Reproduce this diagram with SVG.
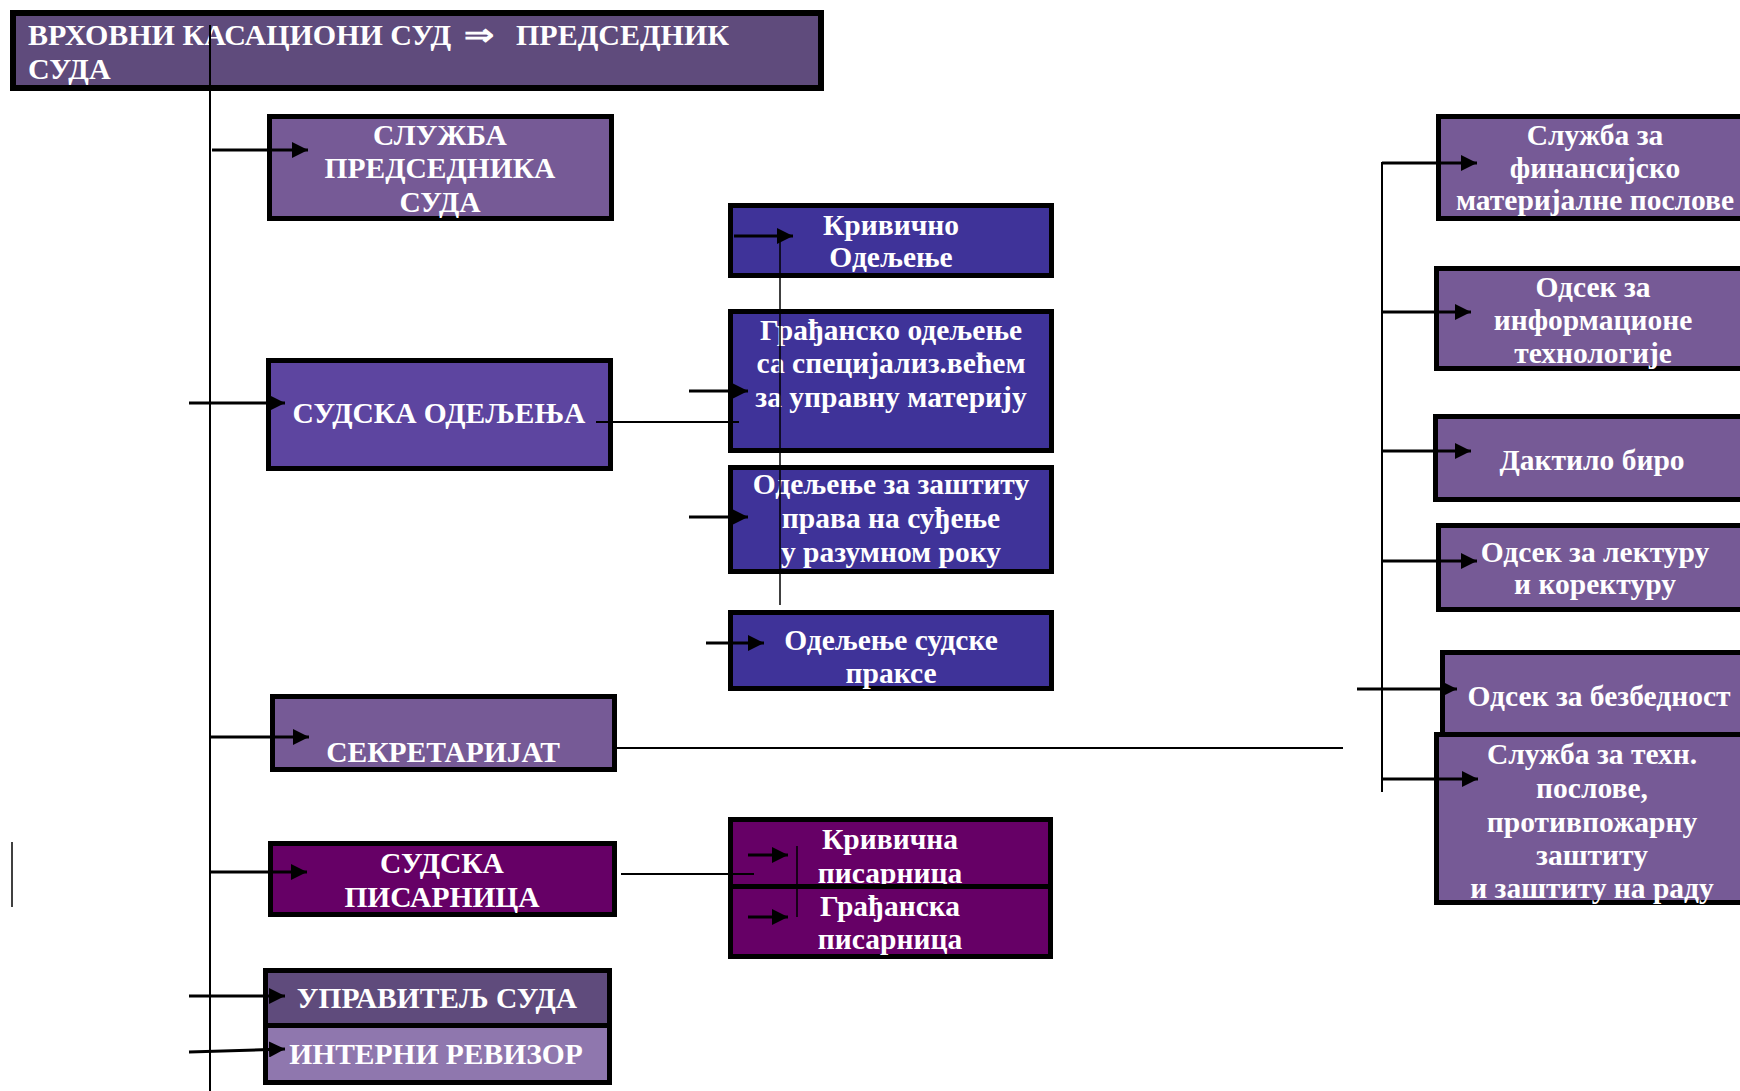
<svg xmlns="http://www.w3.org/2000/svg" width="1740" height="1091" viewBox="0 0 1740 1091">
<style>
.b{stroke:#000;stroke-width:5}
.t{font-family:"Liberation Serif","Times New Roman",serif;font-weight:bold;font-size:29.5px;fill:#fff;text-anchor:middle}
.ts{font-family:"Liberation Serif","Times New Roman",serif;font-weight:bold;font-size:30px;fill:#fff}
.c1{fill:#5f4b7c}
.c2{fill:#765a96}
.c3{fill:#5d45a0}
.c4{fill:#3f3399}
.c5{fill:#660066}
.c6{fill:#8f77ae}
.l{stroke:#000;fill:none}
.a{stroke:#000;stroke-width:3;fill:none;marker-end:url(#ah)}
</style>
<defs>
<marker id="ah" markerUnits="userSpaceOnUse" markerWidth="16" markerHeight="16" viewBox="0 0 16 16" refX="16" refY="8" orient="auto">
<path d="M0,0 L16,8 L0,16 z" fill="#000"/>
</marker>
</defs>
<rect width="1740" height="1091" fill="#fff"/>

<g id="top">
<rect class="b c1" x="13" y="13" width="808" height="75" style="stroke-width:6"/>
<text class="ts" x="28" y="45">ВРХОВНИ КАСАЦИОНИ СУД</text>
<text class="ts" x="464" y="45" textLength="30" lengthAdjust="spacingAndGlyphs">⇒</text>
<text class="ts" x="516" y="45">ПРЕДСЕДНИК</text>
<text class="ts" x="28" y="79">СУДА</text>
</g>

<g id="sluzba-predsednika">
<rect class="b c2" x="269.5" y="116.5" width="342" height="102"/>
<text class="t" x="440" y="145">СЛУЖБА</text>
<text class="t" x="440" y="178">ПРЕДСЕДНИКА</text>
<text class="t" x="440" y="212">СУДА</text>
</g>

<g id="sudska-odeljenja">
<rect class="b c3" x="268.5" y="360.5" width="342" height="108"/>
<text class="t" x="439" y="423">СУДСКА ОДЕЉЕЊА</text>
</g>

<g id="krivicno">
<rect class="b c4" x="730.5" y="205.5" width="321" height="70"/>
<text class="t" x="891" y="235">Кривично</text>
<text class="t" x="891" y="267">Одељење</text>
</g>

<g id="gradjansko">
<rect class="b c4" x="730.5" y="311.5" width="321" height="139"/>
<text class="t" x="891" y="340">Грађанско одељење</text>
<text class="t" x="891" y="373">са специјализ.већем</text>
<text class="t" x="891" y="407">за управну материју</text>
</g>

<g id="zastita">
<rect class="b c4" x="730.5" y="467.5" width="321" height="104"/>
<text class="t" x="891" y="494">Одељење за заштиту</text>
<text class="t" x="891" y="528">права на суђење</text>
<text class="t" x="891" y="562">у разумном року</text>
</g>

<g id="praksa">
<rect class="b c4" x="730.5" y="612.5" width="321" height="76"/>
<text class="t" x="891" y="650">Одељење судске</text>
<text class="t" x="891" y="683">праксе</text>
</g>

<g id="sekretarijat">
<rect class="b c2" x="272.5" y="696.5" width="342" height="73"/>
<text class="t" x="443" y="762">СЕКРЕТАРИЈАТ</text>
</g>

<g id="sudska-pisarnica">
<rect class="b c5" x="270.5" y="843.5" width="344" height="71"/>
<text class="t" x="442" y="873">СУДСКА</text>
<text class="t" x="442" y="907">ПИСАРНИЦА</text>
</g>

<g id="krivicna-pisarnica">
<rect class="b c5" x="730.5" y="819.5" width="320" height="67"/>
<text class="t" x="890" y="849">Кривична</text>
<text class="t" x="890" y="883">писарница</text>
</g>

<g id="gradjanska-pisarnica">
<rect class="b c5" x="730.5" y="886.5" width="320" height="70"/>
<text class="t" x="890" y="916">Грађанска</text>
<text class="t" x="890" y="949">писарница</text>
</g>

<g id="upravitelj">
<rect class="b c1" x="265.5" y="970.5" width="344" height="55"/>
<text class="t" x="437" y="1008">УПРАВИТЕЉ СУДА</text>
</g>

<g id="revizor">
<rect class="b c6" x="265.5" y="1025.5" width="344" height="57"/>
<text class="t" x="436" y="1064">ИНТЕРНИ РЕВИЗОР</text>
</g>

<g id="finansije">
<rect class="b c2" x="1438.5" y="116.5" width="360" height="102"/>
<text class="t" x="1595" y="145">Служба за</text>
<text class="t" x="1595" y="178">финансијско</text>
<text class="t" x="1595" y="210">материјалне послове</text>
</g>

<g id="it">
<rect class="b c2" x="1436.5" y="268.5" width="360" height="100"/>
<text class="t" x="1593" y="297">Одсек за</text>
<text class="t" x="1593" y="330">информационе</text>
<text class="t" x="1593" y="363">технологије</text>
</g>

<g id="daktilo">
<rect class="b c2" x="1435.5" y="416.5" width="360" height="83"/>
<text class="t" x="1592" y="470">Дактило биро</text>
</g>

<g id="lektura">
<rect class="b c2" x="1438.5" y="525.5" width="360" height="84"/>
<text class="t" x="1595" y="562">Одсек за лектуру</text>
<text class="t" x="1595" y="594">и коректуру</text>
</g>

<g id="bezbednost">
<rect class="b c2" x="1442.5" y="652.5" width="360" height="85"/>
<text class="t" x="1599" y="706">Одсек за безбедност</text>
</g>

<g id="tehn">
<rect class="b c2" x="1436.5" y="734.5" width="360" height="168"/>
<text class="t" x="1592" y="764">Служба за техн.</text>
<text class="t" x="1592" y="798">послове,</text>
<text class="t" x="1592" y="832">противпожарну</text>
<text class="t" x="1592" y="865">заштиту</text>
<text class="t" x="1592" y="898">и заштиту на раду</text>
</g>

<g id="connectors">
<line class="l" x1="210" y1="25" x2="210" y2="1091" stroke-width="2"/>
<line class="a" x1="212" y1="150" x2="308" y2="150"/>
<line class="a" x1="189" y1="403" x2="285" y2="403"/>
<line class="a" x1="210" y1="737" x2="309" y2="737"/>
<line class="a" x1="210" y1="872" x2="307" y2="872"/>
<line class="a" x1="189" y1="996" x2="285" y2="996"/>
<line class="a" x1="189" y1="1052" x2="285" y2="1049"/>

<line class="l" x1="596" y1="422" x2="739" y2="422" stroke-width="2"/>
<line class="l" x1="780" y1="237" x2="780" y2="605" stroke-width="1.5"/>
<line class="a" x1="734" y1="236" x2="793" y2="236"/>
<line class="a" x1="689" y1="391" x2="748" y2="391"/>
<line class="a" x1="689" y1="517" x2="748" y2="517"/>
<line class="a" x1="706" y1="643" x2="764" y2="643"/>

<line class="l" x1="617" y1="748" x2="1343" y2="748" stroke-width="2"/>

<line class="l" x1="621" y1="874" x2="754" y2="874" stroke-width="2"/>
<line class="l" x1="797" y1="846" x2="797" y2="917" stroke-width="1.5"/>
<line class="a" x1="748" y1="855" x2="788" y2="855"/>
<line class="a" x1="748" y1="917" x2="788" y2="917"/>

<line class="l" x1="12" y1="842" x2="12" y2="907" stroke-width="1.5"/>

<line class="l" x1="1382" y1="162" x2="1382" y2="792" stroke-width="2"/>
<line class="a" x1="1382" y1="163" x2="1477" y2="163"/>
<line class="a" x1="1382" y1="312" x2="1471" y2="312"/>
<line class="a" x1="1382" y1="451" x2="1471" y2="451"/>
<line class="a" x1="1382" y1="561" x2="1477" y2="561"/>
<line class="a" x1="1357" y1="689" x2="1457" y2="689"/>
<line class="a" x1="1382" y1="779" x2="1478" y2="779"/>
</g>
</svg>
